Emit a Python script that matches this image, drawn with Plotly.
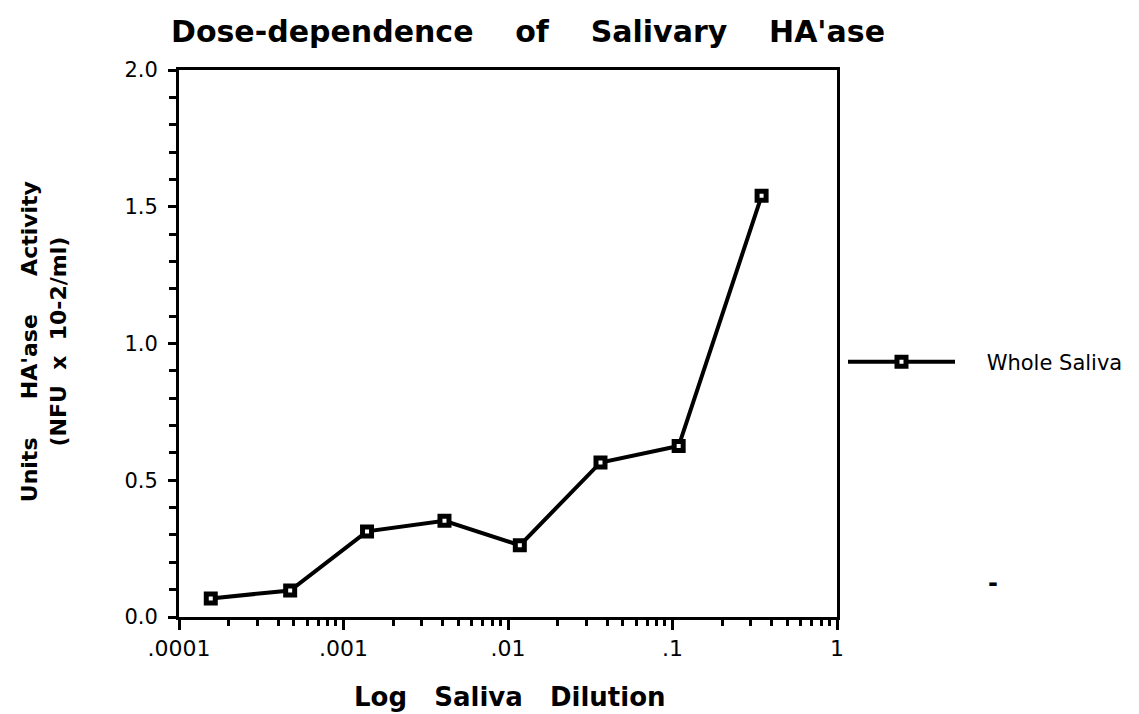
import plotly.graph_objects as go

# ---- data ----
dilution = [0.000156, 0.000474, 0.00139, 0.00411, 0.0118, 0.0365, 0.109, 0.348]
activity = [0.068, 0.097, 0.313, 0.352, 0.262, 0.565, 0.625, 1.54]
series_name = "Whole Saliva"

x_tick_vals = [0.0001, 0.001, 0.01, 0.1, 1]
x_tick_text = [".0001", ".001", ".01", ".1", "1"]
y_tick_vals = [0.0, 0.5, 1.0, 1.5, 2.0]
y_tick_text = ["0.0", "0.5", "1.0", "1.5", "2.0"]

title_text = "Dose-dependence of Salivary HA'ase"
x_title = "Log Saliva Dilution"
y_title_1 = "Units HA'ase Activity"
y_title_2 = "(NFU x 10-2/ml)"

FONT = "DejaVu Sans, Verdana, sans-serif"
NB = "\u00a0"

# page body has an 8px margin; plot area should land at screen x 179-838, y 70-617
PX0, PX1, PY0, PY1 = 179, 838, 70, 617
PW, PH = PX1 - PX0, PY1 - PY0


def px(x):
    return (x - PX0) / PW


def py(y):
    return (PY1 - y) / PH


def spaced(s, n):
    return s.replace(" ", " " + NB * n)


minor_x = [m * d for d in [0.0001, 0.001, 0.01, 0.1] for m in range(2, 10)]

fig = go.Figure()
fig.add_trace(go.Scatter(
    x=dilution, y=activity, mode="lines+markers", name=NB * 4 + series_name,
    line=dict(color="black", width=4),
    marker=dict(symbol="square", size=9, color="white",
                line=dict(color="black", width=5)),
))

fig.update_layout(
    width=1131, height=706,
    margin=dict(l=PX0 - 8, r=1131 - (PX1 - 8), t=PY0 - 8, b=706 - (PY1 - 8)),
    paper_bgcolor="white", plot_bgcolor="white",
    font=dict(family=FONT, color="black", size=21),
    showlegend=True,
    legend=dict(x=px(843), y=py(362), xanchor="left", yanchor="middle",
                itemwidth=107, font=dict(size=21, family=FONT),
                bgcolor="rgba(0,0,0,0)", borderwidth=0),
    xaxis=dict(
        type="log", range=[-4, 0],
        tickmode="array", tickvals=x_tick_vals, ticktext=x_tick_text,
        ticks="outside", ticklen=10, tickwidth=3, tickcolor="black",
        minor=dict(tickmode="array", tickvals=minor_x, ticks="outside",
                   ticklen=6, tickwidth=3, tickcolor="black", showgrid=False),
        showline=True, linecolor="black", linewidth=3, mirror=True,
        showgrid=False, zeroline=False,
        tickfont=dict(size=22, family=FONT),
    ),
    yaxis=dict(
        range=[0, 2.0],
        tickmode="array", tickvals=y_tick_vals, ticktext=y_tick_text,
        ticks="outside", ticklen=8, tickwidth=3, tickcolor="black",
        ticklabelstandoff=6,
        minor=dict(dtick=0.1, ticks="outside", ticklen=7, tickwidth=3,
                   tickcolor="black", showgrid=False),
        showline=True, linecolor="black", linewidth=3, mirror=True,
        showgrid=False, zeroline=False,
        tickfont=dict(size=21, family=FONT),
    ),
    annotations=[
        dict(text="<b>" + spaced(title_text, 3) + "</b>", xref="paper", yref="paper",
             x=px(529), y=py(31), xanchor="center", yanchor="middle",
             showarrow=False, font=dict(size=30, family=FONT)),
        dict(text="<b>" + spaced(x_title, 2) + "</b>", xref="paper", yref="paper",
             x=px(511), y=py(697), xanchor="center", yanchor="middle",
             showarrow=False, font=dict(size=26, family=FONT)),
        dict(text="<b>" + spaced(y_title_1, 4) + "<br>" + spaced(y_title_2, 1) + "</b>",
             xref="paper", yref="paper", x=px(44), y=py(342),
             xanchor="center", yanchor="middle", textangle=-90,
             showarrow=False, font=dict(size=22, family=FONT)),
        dict(text="<b>-</b>", xref="paper", yref="paper",
             x=px(994), y=py(583), xanchor="center", yanchor="middle",
             showarrow=False, font=dict(size=24, family=FONT)),
    ],
)

fig.write_html("out.html")
